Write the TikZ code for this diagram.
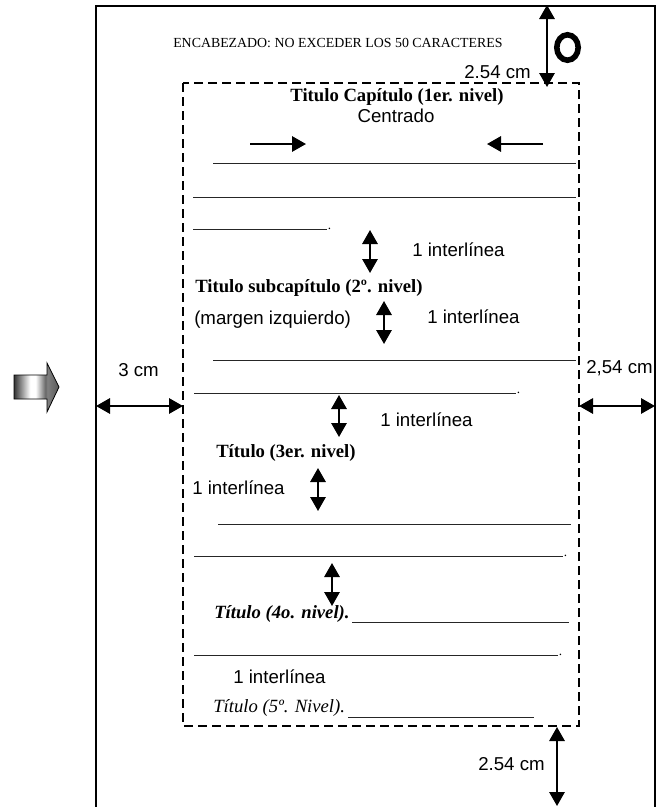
\documentclass[tikz,border=0pt]{standalone}
\usepackage{fontspec}
\setmainfont{Liberation Serif}
\newfontfamily\arial{Liberation Sans}
\usetikzlibrary{arrows.meta}
\pgfdeclarehorizontalshading{blockshade}{100bp}{color(0bp)=(black!80); color(25bp)=(black!80); color(43bp)=(white); color(49bp)=(white); color(60bp)=(black!60); color(62bp)=(black!50); color(75bp)=(black!65); color(100bp)=(black!65)}
\begin{document}
\begin{tikzpicture}[x=0.75pt,y=-0.75pt,
  dbl/.style={line width=1.5pt, {Triangle[length=10.5pt,width=11.5pt]}-{Triangle[length=10.5pt,width=11.5pt]}},
  sgl/.style={line width=1.5pt, -{Triangle[length=10.5pt,width=11.5pt]}},
  ul/.style={line width=0.7pt, black!85},
  border/.style={line width=1.5pt},
  dashbox/.style={line width=1.5pt, dash pattern=on 6.5pt off 4pt},
  sans/.style={font=\arial\fontsize{14}{16}\selectfont},
  serb/.style={font=\fontsize{14}{16}\selectfont\bfseries},
  lbl/.style={inner sep=0pt, anchor=base west},
]
\useasboundingbox (0,0) rectangle (659,807);
% page border
\coordinate (pTL) at (96,6);
\coordinate (pTR) at (655,6);
\coordinate (pBL) at (96,807);
\coordinate (pBR) at (655,807);
\draw[border] (pBL) -- (pTL) -- (pTR) -- (pBR);
% text area
\coordinate (mTL) at (183,83);
\coordinate (mBR) at (579,726);
\draw[dashbox] (mTL) rectangle (mBR);
% margin arrows
\coordinate (aT1) at (547,5);
\coordinate (aT2) at (547,87);
\draw[dbl] (aT1) -- (aT2);
\coordinate (aL1) at (96,406);
\coordinate (aL2) at (183,406);
\draw[dbl] (aL1) -- (aL2);
\coordinate (aR1) at (579,406);
\coordinate (aR2) at (655,406);
\draw[dbl] (aR1) -- (aR2);
\coordinate (aB1) at (557,727);
\coordinate (aB2) at (557,806);
\draw[dbl] (aB1) -- (aB2);
% ring symbol
\coordinate (ring) at (567.5,47.5);
\draw[line width=4.2pt] (ring) ellipse [x radius=10.7, y radius=12.7];
% block arrow
\shade[shading=blockshade, draw=black, line width=0.6pt] (14,375) -- (47,375) -- (47,363) -- (59,387) -- (47,412) -- (47,399) -- (14,399) -- cycle;
% header
\node[lbl, font=\fontsize{10.4}{12}\selectfont] (hdr) at (173,47) {ENCABEZADO: NO EXCEDER LOS 50 CARACTERES};
\node[sans, inner sep=0pt, anchor=base east] (mtop) at (531,78) {2.54 cm};
% level 1
\node[serb, inner sep=0pt, anchor=base] (t1) at (397,101) {Titulo Capítulo (1er. nivel)};
\node[sans, inner sep=0pt, anchor=base] (cen) at (396,122) {Centrado};
\coordinate (c1a) at (250,144);
\coordinate (c1b) at (306,144);
\draw[sgl] (c1a) -- (c1b);
\coordinate (c2a) at (543,144);
\coordinate (c2b) at (487,144);
\draw[sgl] (c2a) -- (c2b);
% paragraph 1
\coordinate (l1a) at (213,163); \coordinate (l1b) at (576,163);
\draw[ul] (l1a) -- (l1b);
\coordinate (l2a) at (193,197); \coordinate (l2b) at (576,197);
\draw[ul] (l2a) -- (l2b);
\coordinate (l3a) at (193,229); \coordinate (l3b) at (327,229);
\draw[ul] (l3a) -- (l3b);
\node[lbl, font=\fontsize{10}{12}\selectfont] (d1) at (327.5,229.5) {.};
\coordinate (v1a) at (370,230); \coordinate (v1b) at (370,273);
\draw[dbl] (v1a) -- (v1b);
\node[lbl, sans] (i1) at (412,256) {1 interlínea};
% level 2
\node[lbl, serb] (t2) at (195,292) {Titulo subcapítulo (2º. nivel)};
\node[lbl, sans] (mi) at (194,324) {(margen izquierdo)};
\coordinate (v2a) at (384,301); \coordinate (v2b) at (384,344);
\draw[dbl] (v2a) -- (v2b);
\node[lbl, sans] (i2) at (427,323) {1 interlínea};
\coordinate (l4a) at (213,360); \coordinate (l4b) at (576,360);
\draw[ul] (l4a) -- (l4b);
\coordinate (l5a) at (194,393); \coordinate (l5b) at (516,393);
\draw[ul] (l5a) -- (l5b);
\node[lbl, font=\fontsize{10}{12}\selectfont] (d2) at (516.5,393.5) {.};
\node[lbl, sans] (m3) at (118,376) {3 cm};
\node[lbl, sans] (m254) at (586,373) {2,54 cm};
\coordinate (v3a) at (339,395); \coordinate (v3b) at (339,437);
\draw[dbl] (v3a) -- (v3b);
\node[lbl, sans] (i3) at (380,426) {1 interlínea};
% level 3
\node[lbl, serb] (t3) at (216,457) {Título (3er. nivel)};
\node[lbl, sans] (i4) at (192,494) {1 interlínea};
\coordinate (v4a) at (318,468); \coordinate (v4b) at (318,511);
\draw[dbl] (v4a) -- (v4b);
\coordinate (l6a) at (218,524); \coordinate (l6b) at (571,524);
\draw[ul] (l6a) -- (l6b);
\coordinate (l7a) at (194,556); \coordinate (l7b) at (563,556);
\draw[ul] (l7a) -- (l7b);
\node[lbl, font=\fontsize{10}{12}\selectfont] (d3) at (563.5,556.5) {.};
\coordinate (v5a) at (332,563); \coordinate (v5b) at (332,606);
\draw[dbl] (v5a) -- (v5b);
% level 4
\node[lbl, font=\fontsize{14}{16}\selectfont\bfseries\itshape] (t4) at (214,618) {Título (4o. nivel).};
\coordinate (l8a) at (352,622); \coordinate (l8b) at (569,622);
\draw[ul] (l8a) -- (l8b);
\coordinate (l9a) at (194,655); \coordinate (l9b) at (558,655);
\draw[ul] (l9a) -- (l9b);
\node[lbl, font=\fontsize{10}{12}\selectfont] (d4) at (558.5,655.5) {.};
\node[lbl, sans] (i5) at (233,683) {1 interlínea};
% level 5
\node[lbl, font=\fontsize{14}{16}\selectfont\itshape] (t5) at (213,712) {Título (5º. Nivel).};
\coordinate (l10a) at (348,717); \coordinate (l10b) at (534,717);
\draw[ul] (l10a) -- (l10b);
\node[lbl, sans] (mbot) at (478,770) {2.54 cm};
\end{tikzpicture}
\end{document}
